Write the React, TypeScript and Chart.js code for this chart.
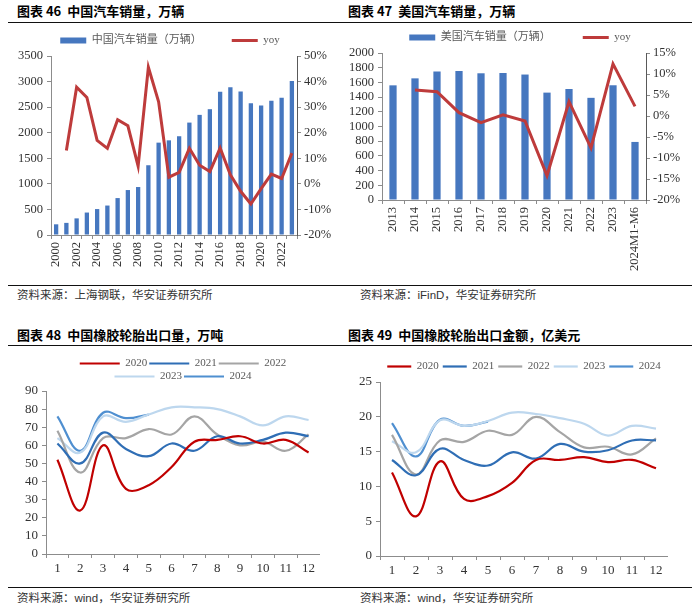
import React, { useEffect, useRef } from 'react';
import { Chart, registerables } from 'chart.js';
Chart.register(...registerables);

const SERIF = '"Liberation Serif", "Times New Roman", "Noto Sans CJK SC", serif';
const TEXT = '#333333';
const AXIS = '#8c8c8c';
const BAR = '#4677BF';
const RED = '#BE3B3B';

// 图表46 中国汽车销量
const cnYears = ['2000','2001','2002','2003','2004','2005','2006','2007','2008','2009','2010','2011','2012','2013','2014','2015','2016','2017','2018','2019','2020','2021','2022','2023'];
const cnSales = [209, 237, 325, 439, 507, 576, 722, 879, 938, 1364, 1806, 1851, 1931, 2198, 2349, 2460, 2803, 2888, 2808, 2577, 2531, 2627, 2686, 3009];
const cnYoy = [null, 13.0, 37.8, 33.8, 17.0, 13.9, 25.1, 22.7, 6.9, 45.6, 32.1, 2.6, 4.5, 13.9, 7.3, 4.8, 14.0, 3.5, -2.9, -7.9, -1.9, 3.8, 2.1, 12.0];

// 图表47 美国汽车销量
const usYears = ['2013','2014','2015','2016','2017','2018','2019','2020','2021','2022','2023','2024M1-M6'];
const usSales = [1560, 1655, 1747, 1756, 1724, 1728, 1707, 1461, 1510, 1390, 1561, 790];
const usYoy = [null, 6.2, 5.8, 0.8, -1.6, 0.3, -1.2, -14.2, 3.4, -7.6, 12.4, 2.3];

// 图表48 中国橡胶轮胎出口量（万吨）
const months = ['1','2','3','4','5','6','7','8','9','10','11','12'];
const vol2020 = [52, 24, 60, 36, 38, 48, 62, 63, 65, 61, 63, 56];
const vol2021 = [61, 50, 67, 58, 54, 61, 57, 65, 61, 63, 67, 65];
const vol2022 = [68, 45, 64, 64, 69, 66, 76, 66, 60, 62, 57, 66];
const vol2023 = [64, 56, 76, 73, 77, 81, 81, 80, 76, 71, 76, 74];
const vol2024 = [76, 57, 78, 75, 77];

// 图表49 中国橡胶轮胎出口金额（亿美元）
const val2020 = [12.0, 5.7, 13.6, 8.2, 8.6, 10.5, 13.8, 13.8, 14.2, 13.5, 13.8, 12.6];
const val2021 = [13.8, 11.6, 15.4, 13.8, 13.0, 14.9, 14.0, 16.1, 15.0, 15.2, 16.6, 16.6];
const val2022 = [17.4, 11.7, 16.6, 16.4, 18.0, 17.4, 20.0, 17.8, 15.6, 15.7, 14.6, 16.9];
const val2023 = [16.5, 14.9, 19.5, 18.7, 19.4, 20.6, 20.4, 19.8, 19.0, 17.3, 18.7, 18.3];
const val2024 = [19.1, 14.3, 19.6, 18.7, 19.3];

const yearLabels = ['2020', '2021', '2022', '2023', '2024'];
const yearColors = ['#C00000', '#2F6EB5', '#A5A5A5', '#BDD7EE', '#4F8FD0'];

function legendItems(chart: any, lw: number) {
  return chart.data.datasets.map((ds: any, i: number) => {
    const isLine = ds.type === 'line' || (chart.config.type === 'line' && ds.type !== 'bar');
    const c = isLine ? ds.borderColor : ds.backgroundColor;
    return {
      text: ds.label,
      datasetIndex: i,
      fillStyle: c,
      strokeStyle: c,
      lineWidth: isLine ? lw : 0,
      pointStyle: isLine ? 'line' : 'rect',
      hidden: false,
      fontColor: '#595959',
    };
  });
}

function axisBase() {
  return {
    grid: { display: true, drawOnChartArea: false, drawTicks: true, tickLength: 4, color: AXIS },
    border: { display: true, color: AXIS, width: 1 },
  };
}

const plain = (v: any) => String(v);

function comboConfig(labels: string[], bars: number[], yoy: (number | null)[], barLabel: string, opt: any) {
  return {
    type: 'bar',
    data: {
      labels,
      datasets: [
        { type: 'bar', label: barLabel, data: bars, backgroundColor: BAR, yAxisID: 'y', barPercentage: opt.barPct, categoryPercentage: 1, order: 2 },
        { type: 'line', label: 'yoy', data: yoy, borderColor: RED, backgroundColor: RED, borderWidth: 3, pointRadius: 0, yAxisID: 'y1', order: 1, tension: 0 },
      ],
    },
    options: {
      responsive: false,
      animation: false,
      layout: { padding: 0 },
      plugins: {
        tooltip: { enabled: false },
        legend: {
          position: 'top',
          maxHeight: opt.legendH,
          labels: {
            font: { family: SERIF, size: 11 },
            color: '#595959',
            usePointStyle: true,
            pointStyleWidth: 26,
            boxHeight: 6,
            padding: opt.legendPad,
            sort: (a: any, b: any) => a.datasetIndex - b.datasetIndex,
            generateLabels: (chart: any) => legendItems(chart, 3),
          },
        },
      },
      scales: {
        x: {
          ...axisBase(),
          grid: { display: true, drawOnChartArea: false, tickLength: 4, color: AXIS, offset: true },
          ticks: {
            autoSkip: false, minRotation: 90, maxRotation: 90, color: TEXT, padding: 3,
            font: { family: SERIF, size: 12.5 },
            callback: (_v: any, i: number) => (i % opt.every === 0 ? labels[i] : ''),
          },
          afterFit: (s: any) => { s.height = opt.xH; },
        },
        y: {
          ...axisBase(),
          position: 'left',
          min: 0, max: opt.yMax,
          ticks: { stepSize: opt.yStep, autoSkip: false, color: TEXT, font: { family: SERIF, size: 12.5 }, padding: 4, callback: plain },
          afterFit: (s: any) => { s.width = opt.yW; },
        },
        y1: {
          ...axisBase(),
          border: { display: true, color: '#595959', width: 1 },
          position: 'right',
          min: opt.rMin, max: opt.rMax,
          ticks: { stepSize: opt.rStep, autoSkip: false, color: TEXT, font: { family: SERIF, size: 12.5 }, padding: 3, callback: (v: any) => `${v}%` },
          afterFit: (s: any) => { s.width = opt.rW; },
        },
      },
    },
  };
}

function linesConfig(series: number[][], opt: any) {
  return {
    type: 'line',
    data: {
      labels: months,
      datasets: series.map((d, i) => ({
        label: yearLabels[i],
        data: d,
        borderColor: yearColors[i],
        backgroundColor: yearColors[i],
        borderWidth: 2.2,
        pointRadius: 0,
        tension: 0.4,
        fill: false,
      })),
    },
    options: {
      responsive: false,
      animation: false,
      layout: { padding: 0 },
      plugins: {
        tooltip: { enabled: false },
        legend: {
          position: 'top',
          fullSize: false,
          maxHeight: opt.legendH,
          labels: {
            font: { family: SERIF, size: 11 },
            color: '#595959',
            usePointStyle: true,
            pointStyleWidth: opt.boxW,
            boxHeight: 6,
            padding: opt.legendPad,
            generateLabels: (chart: any) => legendItems(chart, 2.2),
          },
        },
      },
      scales: {
        x: {
          ...axisBase(),
          offset: true,
          grid: { display: true, drawOnChartArea: false, tickLength: 4, color: AXIS, offset: true },
          ticks: { color: TEXT, font: { family: SERIF, size: 13 }, padding: 3, autoSkip: false, maxRotation: 0 },
          afterFit: (s: any) => { s.height = opt.xH; },
        },
        y: {
          ...axisBase(),
          min: 0, max: opt.yMax,
          ticks: { stepSize: opt.yStep, autoSkip: false, color: TEXT, font: { family: SERIF, size: 13 }, padding: 4, callback: plain },
          afterFit: (s: any) => { s.width = opt.yW; },
        },
      },
    },
  };
}

function ChartBox({ left, top, width, height, make }: any) {
  const ref = useRef<HTMLCanvasElement>(null);
  useEffect(() => {
    const chart = new Chart(ref.current as HTMLCanvasElement, make() as any);
    return () => chart.destroy();
  }, []);
  return (
    <canvas
      ref={ref}
      width={width}
      height={height}
      style={{ position: 'absolute', left, top, width, height }}
    />
  );
}

const titleStyle: React.CSSProperties = {
  position: 'absolute', fontFamily: '"Noto Sans CJK SC", sans-serif', fontWeight: 700,
  fontSize: 13, lineHeight: '16px', color: '#000', whiteSpace: 'nowrap',
};
const srcStyle: React.CSSProperties = {
  position: 'absolute', fontFamily: '"Liberation Sans", "Noto Sans CJK SC", sans-serif',
  fontSize: 11.5, lineHeight: '14px', color: '#333', whiteSpace: 'nowrap',
};
const rule = (top: number): React.CSSProperties => ({
  position: 'absolute', left: 8, top, width: 684, height: 0, borderTop: '1px solid #111',
});

export default function App() {
  return (
    <div style={{ position: 'absolute', left: 0, top: 0, width: 700, height: 613, background: '#fff', overflow: 'hidden' }}>
      <div style={{ ...titleStyle, left: 17, top: 3 }}>图表 46&nbsp;&nbsp;中国汽车销量，万辆</div>
      <div style={{ ...titleStyle, left: 348, top: 3 }}>图表 47&nbsp;&nbsp;美国汽车销量，万辆</div>
      <div style={rule(22)} />
      <ChartBox left={0} top={5} width={340} height={275}
        make={() => comboConfig(cnYears, cnSales, cnYoy, '中国汽车销量（万辆）', {
          barPct: 0.42, legendH: 56, legendPad: 30, every: 2, xH: 45,
          yMax: 3500, yStep: 500, yW: 51, rMin: -20, rMax: 50, rStep: 10, rW: 43,
        })} />
      <ChartBox left={340} top={0} width={360} height={280}
        make={() => comboConfig(usYears, usSales, usYoy, '美国汽车销量（万辆）', {
          barPct: 0.33, legendH: 60, legendPad: 32, every: 1, xH: 80,
          yMax: 2000, yStep: 200, yW: 42, rMin: -20, rMax: 15, rStep: 5, rW: 54,
        })} />
      <div style={rule(285)} />
      <div style={{ ...srcStyle, left: 17, top: 288 }}>资料来源：上海钢联，华安证券研究所</div>
      <div style={{ ...srcStyle, left: 360, top: 288 }}>资料来源：iFinD，华安证券研究所</div>

      <div style={{ ...titleStyle, left: 17, top: 327 }}>图表 48&nbsp;&nbsp;中国橡胶轮胎出口量，万吨</div>
      <div style={{ ...titleStyle, left: 348, top: 327 }}>图表 49&nbsp;&nbsp;中国橡胶轮胎出口金额，亿美元</div>
      <div style={rule(345)} />
      <ChartBox left={0} top={356} width={320} height={224}
        make={() => linesConfig([vol2020, vol2021, vol2022, vol2023, vol2024], {
          legendH: 35, legendPad: 2, boxW: 40, xH: 26, yMax: 90, yStep: 10, yW: 46,
        })} />
      <ChartBox left={340} top={357} width={328} height={225}
        make={() => linesConfig([val2020, val2021, val2022, val2023, val2024], {
          legendH: 34, legendPad: 4, boxW: 24, xH: 26, yMax: 25, yStep: 5, yW: 40,
        })} />
      <div style={rule(587)} />
      <div style={{ ...srcStyle, left: 17, top: 591 }}>资料来源：wind，华安证券研究所</div>
      <div style={{ ...srcStyle, left: 360, top: 591 }}>资料来源：wind，华安证券研究所</div>
    </div>
  );
}
